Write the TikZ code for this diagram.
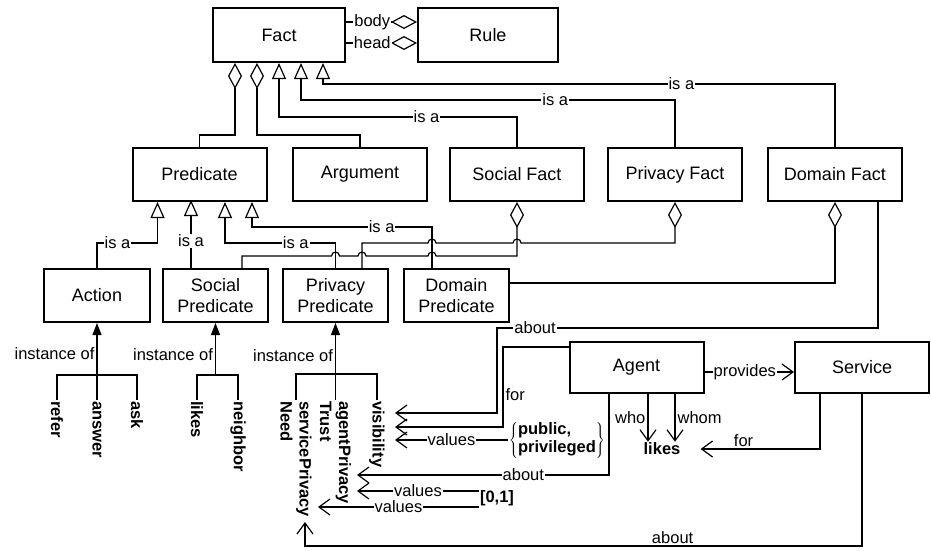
\documentclass[tikz,border=0pt]{standalone}
\usepackage{fontspec}
\setmainfont{Liberation Sans}
\usetikzlibrary{arrows.meta}

\tikzset{
  box/.style={draw, line width=2pt, minimum width=134pt, minimum height=53pt,
    align=center, inner sep=2pt, font=\fontsize{18}{21.5}\selectfont},
  lbl/.style={fill=white, inner sep=1pt, font=\fontsize{16.5}{18}\selectfont},
  txt/.style={inner sep=2pt, font=\fontsize{16.5}{18}\selectfont},
  bold/.style={inner sep=1pt, align=left, font=\fontsize{16.5}{18}\selectfont\bfseries},
  leaf/.style={rotate=-90, anchor=west, align=left, inner sep=1pt,
    font=\fontsize{16.5}{19}\selectfont\bfseries},
  conn/.style={line width=1.2pt},
  isa/.style={conn, -{Triangle[open, length=16pt, width=14pt]}},
  aggr/.style={conn, {Diamond[open, length=26pt, width=14pt]}-},
  assoc/.style={conn, -{Straight Barb[length=11pt, width=16pt]}},
  inst/.style={conn, -{Triangle[length=12pt, width=9pt]}},
}

\begin{document}
\begin{tikzpicture}[x=1pt, y=1pt]
  \useasboundingbox (0,0) rectangle (931,-550);

  % classes
  \node[box, minimum width=132pt, minimum height=54pt] (fact) at (279,-35) {Fact};
  \node[box, minimum width=140pt, minimum height=54pt] (rule) at (488,-35) {Rule};

  \node[box] (predicate) at (199.5,-174.5) {Predicate};
  \node[box] (argument) at (360,-174.5) {Argument};
  \node[box] (socialfact) at (517,-174.5) {Social Fact};
  \node[box] (privacyfact) at (675,-174.5) {Privacy Fact};
  \node[box] (domainfact) at (835,-174.5) {Domain Fact};

  \node[box, minimum width=106pt] (action) at (97,-295.5) {Action};
  \node[box, minimum width=105pt] (socialpred) at (215.5,-295.5) {Social\\Predicate};
  \node[box, minimum width=105pt] (privacypred) at (335.5,-295.5) {Privacy\\Predicate};
  \node[box, minimum width=105pt] (domainpred) at (456.5,-295.5) {Domain\\Predicate};

  \node[box, minimum height=51pt] (agent) at (636.5,-367.5) {Agent};
  \node[box, minimum height=51pt] (service) at (862,-367.5) {Service};

  % instances and values
  \node[leaf] (refer) at (57,-400) {refer};
  \node[leaf] (answer) at (97,-400) {answer};
  \node[leaf] (ask) at (137,-400) {ask};
  \node[leaf] (likesleaf) at (197,-400) {likes};
  \node[leaf] (neighbor) at (238,-400) {neighbor};
  \node[leaf] (need) at (296,-400) {servicePrivacy\\Need};
  \node[leaf] (trust) at (335.5,-400) {agentPrivacy\\Trust};
  \node[leaf] (visibility) at (377,-400) {visibility};

  \node[bold] (pubpriv) at (557,-440)
    {$\left\{\mbox{\begin{tabular}{@{}l@{}}public,\\privileged\end{tabular}}\right\}$};
  \node[bold] (zeroone) at (497,-498) {[0,1]};
  \node[bold] (likes) at (662,-449) {likes};

  \coordinate (visA) at (395,-413);
  \coordinate (visB) at (395,-427);
  \coordinate (visC) at (395,-440);
  \coordinate (apA) at (357,-475);
  \coordinate (apB) at (357,-491);
  \coordinate (spB) at (318,-507);
  \coordinate (spA) at (305,-522);

  % Fact and Rule
  \draw[aggr] ([yshift=13pt]rule.west) -- node[lbl, pos=0.63]{body} ([yshift=13pt]fact.east);
  \draw[aggr] ([yshift=-8pt]rule.west) -- node[lbl, pos=0.63]{head} ([yshift=-8pt]fact.east);

  \draw[aggr] ([xshift=-44pt]fact.south) -- ++(0,-72) -| (predicate.north);
  \draw[aggr] ([xshift=-22pt]fact.south) -- ++(0,-72) -| (argument.north);

  \draw[isa] (socialfact.north) |- node[lbl, pos=0.69]{is a}
    ([yshift=-54pt]fact.south) -- (fact.south);
  \draw[isa] (privacyfact.north) |- node[lbl, pos=0.66]{is a}
    ([xshift=22pt, yshift=-37pt]fact.south) -- ([xshift=22pt]fact.south);
  \draw[isa] (domainfact.north) |- node[lbl, pos=0.65]{is a}
    ([xshift=44pt, yshift=-21pt]fact.south) -- ([xshift=44pt]fact.south);

  % predicates
  \draw[isa] (action.north) |- node[lbl, pos=0.67]{is a}
    ([xshift=-42pt, yshift=-41pt]predicate.south) -- ([xshift=-42pt]predicate.south);
  \draw[isa] ([xshift=-24.5pt]socialpred.north) -- node[lbl, pos=0.4]{is a} ++(0,68);
  \draw[isa] (privacypred.north) |- node[lbl, pos=0.68]{is a}
    ([xshift=25.5pt, yshift=-41pt]predicate.south) -- ([xshift=25.5pt]predicate.south);
  \draw[isa] ([xshift=-24.5pt]domainpred.north) |- node[lbl, pos=0.64]{is a}
    ([xshift=52.5pt, yshift=-25pt]predicate.south) -- ([xshift=52.5pt]predicate.south);

  \draw[aggr] (socialfact.south) |- (436,-256)
    arc[start angle=0, end angle=180, radius=4] -- (366,-256)
    arc[start angle=0, end angle=180, radius=4] -- (339.5,-256)
    arc[start angle=0, end angle=180, radius=4] -| ([xshift=26.5pt]socialpred.north);
  \draw[aggr] (privacyfact.south) |- (521,-243)
    arc[start angle=0, end angle=180, radius=4] -- (436,-243)
    arc[start angle=0, end angle=180, radius=4] -| ([xshift=26.5pt]privacypred.north);
  \draw[aggr] (domainfact.south) |- ([yshift=12.5pt]domainpred.east);

  % instance of
  \draw[conn] (refer.west) -- ++(0,25) -| (ask.west);
  \draw[inst] (answer.west) -- node[txt, left, pos=0.6]{instance of} (action.south);
  \draw[conn] (likesleaf.west) -- ++(0,25) -| (neighbor.west);
  \draw[inst] ([yshift=-53pt]socialpred.south) -- node[txt, left, pos=0.4]{instance of} (socialpred.south);
  \draw[conn] (need.west) -- ++(0,26) -| (visibility.west);
  \draw[inst] (trust.west) -- node[txt, left, pos=0.58]{instance of} (privacypred.south);

  % agent and service
  \draw[assoc] ([xshift=43pt]domainfact.south) |- node[lbl, pos=0.95]{about} (497,-328) |- (visA);
  \draw[assoc] ([yshift=20.5pt]agent.west) -| node[txt, right, pos=0.8]{for} (503,-427) -- (visB);
  \draw[assoc] (pubpriv.west) -- node[lbl]{values} (visC);
  \draw[assoc] ([xshift=-27.5pt]agent.south) |- node[lbl, pos=0.67]{about} (apA);
  \draw[assoc] ([yshift=7pt]zeroone.west) -- node[lbl]{values} (apB);
  \draw[assoc] ([yshift=-9pt]zeroone.west) -- node[lbl]{values} (spB);
  \draw[assoc] ([yshift=-4.5pt]agent.east) -- node[lbl, pos=0.45]{provides} ([yshift=-4.5pt]service.west);
  \draw[assoc] ([xshift=11.5pt]agent.south) -- node[txt, left]{who} ([xshift=-14pt]likes.north);
  \draw[assoc] ([xshift=38.5pt]agent.south) -- node[txt, right]{whom} ([xshift=13pt]likes.north);
  \draw[assoc] ([xshift=-42pt]service.south) |- node[txt, above, pos=0.82]{for} ([xshift=19pt]likes.east);
  \draw[assoc] (service.south) -- ++(0,-152) -| node[txt, above, pos=0.17]{about} (spA);
\end{tikzpicture}
\end{document}
